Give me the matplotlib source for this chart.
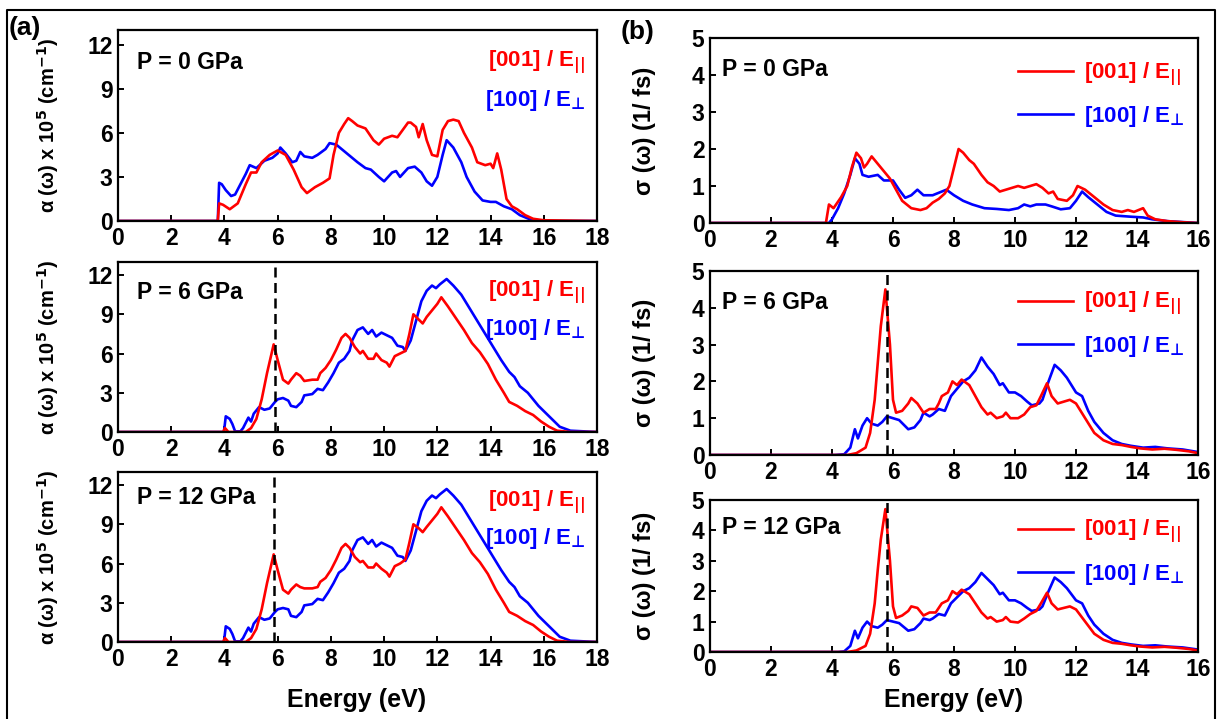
import matplotlib
matplotlib.use('Agg')
import matplotlib.pyplot as plt
from matplotlib import font_manager
from matplotlib.lines import Line2D

# ---------------- data ----------------
# (a) absorption alpha(omega) x 1e5 cm^-1
e_a0_r = [0, 3.75, 3.8, 3.95, 4.2, 4.5, 4.8, 5.0, 5.2, 5.4, 5.7, 6.0, 6.3, 6.6, 6.9, 7.1, 7.4, 7.7, 7.95, 8.1,
          8.3, 8.5, 8.65, 8.8, 9.0, 9.3, 9.6, 9.8, 10.0, 10.3, 10.5, 10.7, 10.9, 11.0, 11.2, 11.3, 11.45, 11.6,
          11.8, 12.0, 12.2, 12.4, 12.6, 12.8, 13.0, 13.3, 13.5, 13.8, 14.0, 14.1, 14.25, 14.4, 14.6, 14.8,
          15.0, 15.3, 15.6, 16.0, 18]
a0_r = [0, 0, 1.2, 1.1, 0.8, 1.2, 2.5, 3.3, 3.3, 4.0, 4.5, 4.8, 4.5, 3.5, 2.3, 1.9, 2.3, 2.6, 2.9, 4.5,
        6.0, 6.6, 7.0, 6.8, 6.5, 6.3, 5.5, 5.2, 5.6, 5.8, 5.7, 6.2, 6.7, 6.7, 6.4, 5.7, 6.6, 5.5,
        4.5, 4.4, 6.2, 6.8, 6.9, 6.8, 6.0, 5.0, 4.0, 3.8, 3.9, 3.6, 4.6, 3.5, 1.5, 1.0,
        0.8, 0.4, 0.15, 0.05, 0]
e_a0_b = [0, 3.75, 3.8, 3.9, 4.05, 4.25, 4.4, 4.6, 4.8, 4.95, 5.2, 5.5, 5.8, 6.0, 6.1, 6.3, 6.55, 6.7, 6.85,
          7.0, 7.3, 7.5, 7.8, 7.95, 8.2, 8.6, 9.0, 9.3, 9.5, 9.8, 10.0, 10.3, 10.45, 10.6, 10.9, 11.15, 11.4,
          11.6, 11.8, 12.0, 12.2, 12.35, 12.6, 12.9, 13.1, 13.4, 13.7, 14.0, 14.2, 14.5, 14.8, 15.1, 15.5,
          16.0, 18]
a0_b = [0, 0, 2.6, 2.5, 2.1, 1.7, 1.8, 2.5, 3.2, 3.8, 3.6, 4.1, 4.3, 4.6, 5.0, 4.6, 4.0, 4.1, 4.7,
        4.4, 4.3, 4.5, 4.9, 5.3, 5.2, 4.6, 4.0, 3.6, 3.5, 3.0, 2.7, 3.3, 3.4, 3.0, 3.6, 3.7, 3.3,
        2.7, 2.4, 3.0, 4.5, 5.5, 5.0, 4.0, 3.0, 2.0, 1.4, 1.3, 1.3, 1.0, 0.8, 0.4, 0.1,
        0, 0]

e_a6_r = [0, 3.95, 4.02, 4.15, 4.8, 5.0, 5.2, 5.4, 5.6, 5.85, 6.0, 6.2, 6.4, 6.5, 6.7, 6.85, 7.0, 7.3, 7.5,
          7.6, 7.8, 8.0, 8.2, 8.4, 8.55, 8.7, 8.9, 9.1, 9.2, 9.4, 9.6, 9.7, 9.9, 10.1, 10.2, 10.4, 10.6,
          10.8, 10.95, 11.1, 11.3, 11.45, 11.6, 11.8, 12.0, 12.15, 12.4, 12.7, 13.0, 13.3, 13.6, 13.9, 14.2,
          14.5, 14.7, 15.0, 15.3, 15.6, 15.9, 16.2, 16.5, 17.0, 18]
a6_r = [0, 0, 0.3, 0, 0, 0.3, 1.0, 2.5, 4.5, 6.7, 5.5, 4.0, 3.7, 4.0, 4.5, 4.3, 3.9, 4.0, 4.0,
        4.5, 4.9, 5.5, 6.3, 7.2, 7.5, 7.2, 6.5, 6.0, 6.2, 5.6, 5.6, 6.0, 5.5, 5.3, 5.0, 5.8, 6.0,
        6.2, 7.5, 9.0, 8.6, 8.3, 8.8, 9.3, 9.8, 10.3, 9.6, 8.7, 7.8, 6.8, 6.1, 5.2, 4.0,
        3.0, 2.3, 2.0, 1.6, 1.3, 0.8, 0.4, 0.1, 0, 0]
e_a6_b = [0, 3.98, 4.05, 4.2, 4.3, 4.4, 4.6, 4.7, 4.9, 5.0, 5.1, 5.3, 5.5, 5.7, 5.9, 6.0, 6.2, 6.4, 6.5,
          6.7, 6.9, 7.0, 7.3, 7.5, 7.7, 7.9, 8.1, 8.3, 8.5, 8.7, 8.8, 9.0, 9.2, 9.4, 9.55, 9.7, 9.9, 10.1,
          10.3, 10.5, 10.7, 10.8, 11.0, 11.2, 11.4, 11.6, 11.8, 11.95, 12.1, 12.35, 12.6, 12.9, 13.2, 13.5,
          13.8, 14.1, 14.4, 14.7, 14.9, 15.1, 15.4, 15.6, 15.8, 16.0, 16.3, 16.6, 17.0, 18]
a6_b = [0, 0, 1.2, 1.0, 0.6, 0.05, 0.05, 0.3, 1.1, 0.8, 1.4, 1.9, 1.7, 1.8, 2.3, 2.5, 2.6, 2.4, 2.0,
        1.9, 2.3, 2.8, 2.9, 3.3, 3.2, 3.8, 4.5, 5.3, 5.6, 6.2, 7.0, 7.8, 8.0, 7.5, 7.8, 7.3, 7.6, 7.4,
        7.2, 6.6, 6.5, 6.2, 7.0, 8.5, 10.0, 10.8, 11.2, 11.0, 11.3, 11.7, 11.2, 10.5, 9.5, 8.5,
        7.5, 6.5, 5.5, 4.6, 4.2, 3.5, 3.0, 2.5, 2.0, 1.6, 1.0, 0.4, 0.1, 0]

e_a12_r = [0, 3.95, 4.02, 4.15, 4.8, 5.0, 5.2, 5.4, 5.6, 5.85, 6.0, 6.2, 6.4, 6.5, 6.7, 6.85, 7.0, 7.3, 7.5,
           7.6, 7.8, 8.0, 8.2, 8.4, 8.55, 8.7, 8.9, 9.1, 9.2, 9.4, 9.6, 9.7, 9.9, 10.1, 10.2, 10.4, 10.6,
           10.8, 10.95, 11.1, 11.3, 11.45, 11.6, 11.8, 12.0, 12.15, 12.4, 12.7, 13.0, 13.3, 13.6, 13.9, 14.2,
           14.5, 14.7, 15.0, 15.3, 15.6, 15.9, 16.2, 16.5, 17.0, 18]
a12_r = [0, 0, 0.3, 0, 0, 0.3, 1.0, 2.5, 4.5, 6.7, 5.5, 4.0, 3.7, 4.0, 4.4, 4.2, 4.1, 4.1, 4.2,
         4.6, 4.9, 5.5, 6.3, 7.2, 7.5, 7.2, 6.5, 6.1, 6.2, 5.7, 5.7, 6.0, 5.6, 5.3, 5.0, 5.8, 6.0,
         6.3, 7.6, 9.0, 8.7, 8.4, 8.8, 9.3, 9.8, 10.3, 9.6, 8.7, 7.8, 6.8, 6.1, 5.2, 4.0,
         3.0, 2.3, 2.0, 1.6, 1.3, 0.8, 0.4, 0.1, 0, 0]
e_a12_b = [0, 3.98, 4.05, 4.2, 4.3, 4.4, 4.6, 4.7, 4.9, 5.0, 5.1, 5.3, 5.5, 5.7, 5.9, 6.0, 6.2, 6.4, 6.5,
           6.7, 6.9, 7.0, 7.3, 7.5, 7.7, 7.9, 8.1, 8.3, 8.5, 8.7, 8.8, 9.0, 9.2, 9.4, 9.55, 9.7, 9.9, 10.1,
           10.3, 10.5, 10.7, 10.8, 11.0, 11.2, 11.4, 11.6, 11.8, 11.95, 12.1, 12.35, 12.6, 12.9, 13.2, 13.5,
           13.8, 14.1, 14.4, 14.7, 14.9, 15.1, 15.4, 15.6, 15.8, 16.0, 16.3, 16.6, 17.0, 18]
a12_b = [0, 0, 1.2, 1.0, 0.6, 0.05, 0.05, 0.3, 1.1, 0.8, 1.4, 1.9, 1.7, 1.8, 2.3, 2.5, 2.6, 2.5, 2.0,
         1.9, 2.3, 2.8, 2.9, 3.3, 3.2, 3.8, 4.5, 5.3, 5.6, 6.2, 7.0, 7.8, 8.0, 7.5, 7.8, 7.3, 7.6, 7.4,
         7.2, 6.6, 6.5, 6.2, 7.0, 8.5, 10.0, 10.8, 11.2, 11.0, 11.3, 11.7, 11.2, 10.5, 9.5, 8.5,
         7.5, 6.5, 5.5, 4.6, 4.2, 3.5, 3.0, 2.5, 2.0, 1.6, 1.0, 0.4, 0.1, 0]

# (b) optical conductivity sigma(omega) (1/fs)
e_s0_r = [0, 3.8, 3.9, 4.05, 4.3, 4.5, 4.65, 4.8, 4.95, 5.05, 5.15, 5.3, 5.4, 5.5, 5.7, 5.9, 6.1, 6.3, 6.6,
          6.9, 7.1, 7.3, 7.5, 7.7, 7.85, 8.0, 8.15, 8.3, 8.5, 8.65, 8.9, 9.1, 9.3, 9.5, 9.7, 9.9, 10.1,
          10.3, 10.5, 10.7, 10.9, 11.1, 11.25, 11.4, 11.7, 11.9, 12.05, 12.3, 12.6, 12.9, 13.2, 13.5, 13.7,
          13.9, 14.2, 14.35, 14.6, 15.0, 15.5, 16.0]
s0_r = [0, 0, 0.5, 0.4, 0.7, 1.0, 1.5, 1.9, 1.75, 1.5, 1.6, 1.8, 1.7, 1.6, 1.4, 1.2, 0.9, 0.6, 0.4,
        0.35, 0.4, 0.55, 0.65, 0.8, 1.0, 1.5, 2.0, 1.9, 1.7, 1.6, 1.3, 1.1, 1.0, 0.85, 0.9, 0.95, 1.0,
        0.95, 1.0, 1.05, 0.95, 0.8, 0.85, 0.65, 0.6, 0.75, 1.0, 0.9, 0.7, 0.5, 0.35, 0.3, 0.35,
        0.3, 0.4, 0.2, 0.1, 0.05, 0.02, 0]
e_s0_b = [0, 3.9, 4.0, 4.2, 4.4, 4.6, 4.75, 4.9, 5.0, 5.2, 5.5, 5.7, 6.0, 6.2, 6.4, 6.6, 6.8, 7.0, 7.3,
          7.6, 7.75, 8.0, 8.3, 8.6, 9.0, 9.4, 9.8, 10.1, 10.3, 10.5, 10.7, 11.0, 11.2, 11.5, 11.8, 12.0,
          12.2, 12.4, 12.7, 13.0, 13.3, 13.8, 14.2, 14.5, 15.0, 16.0]
s0_b = [0, 0, 0.1, 0.4, 0.8, 1.3, 1.75, 1.6, 1.3, 1.25, 1.3, 1.15, 1.15, 0.9, 0.68, 0.75, 0.9, 0.75, 0.75,
        0.85, 0.9, 0.75, 0.6, 0.5, 0.4, 0.38, 0.35, 0.4, 0.5, 0.45, 0.5, 0.5, 0.45, 0.37, 0.4, 0.6,
        0.85, 0.7, 0.5, 0.3, 0.2, 0.17, 0.15, 0.1, 0.05, 0]

e_s6_r = [0, 4.5, 4.8, 5.1, 5.25, 5.4, 5.5, 5.6, 5.75, 5.9, 6.0, 6.1, 6.3, 6.5, 6.6, 6.8, 7.0, 7.2, 7.4,
          7.5, 7.6, 7.8, 7.95, 8.1, 8.25, 8.5, 8.7, 8.9, 9.1, 9.2, 9.4, 9.6, 9.7, 9.85, 10.1, 10.3, 10.5,
          10.7, 10.85, 11.05, 11.2, 11.4, 11.6, 11.8, 12.0, 12.3, 12.6, 12.9, 13.2, 13.5, 13.8, 14.1, 14.5,
          14.9, 15.3, 15.7, 16.0]
s6_r = [0, 0, 0.05, 0.2, 0.6, 1.5, 2.5, 3.5, 4.5, 3.0, 1.5, 1.15, 1.2, 1.4, 1.55, 1.4, 1.15, 1.25, 1.25,
        1.4, 1.6, 1.7, 2.0, 1.9, 2.05, 1.9, 1.6, 1.3, 1.1, 1.15, 1.0, 1.05, 1.15, 1.0, 1.0, 1.1, 1.3,
        1.35, 1.6, 1.95, 1.6, 1.4, 1.45, 1.5, 1.4, 1.0, 0.6, 0.4, 0.3, 0.27, 0.22, 0.18, 0.15,
        0.17, 0.14, 0.1, 0.05]
e_s6_b = [0, 4.1, 4.4, 4.6, 4.75, 4.85, 5.0, 5.15, 5.3, 5.5, 5.65, 5.8, 6.0, 6.2, 6.5, 6.7, 6.9, 7.0, 7.2,
          7.3, 7.5, 7.7, 7.9, 8.1, 8.3, 8.5, 8.7, 8.9, 9.1, 9.3, 9.5, 9.6, 9.8, 10.0, 10.2, 10.4, 10.55,
          10.8, 10.9, 11.1, 11.3, 11.5, 11.7, 11.85, 12.0, 12.2, 12.4, 12.6, 12.9, 13.2, 13.5, 13.8, 14.2,
          14.6, 15.0, 15.5, 16.0]
s6_b = [0, 0, 0.02, 0.2, 0.7, 0.45, 0.8, 1.0, 0.85, 0.8, 0.9, 1.05, 1.0, 0.95, 0.7, 0.75, 0.95, 1.15, 1.05,
        1.1, 1.25, 1.2, 1.6, 1.8, 2.0, 2.1, 2.3, 2.65, 2.4, 2.2, 1.9, 1.95, 1.7, 1.7, 1.6, 1.45, 1.35,
        1.4, 1.5, 2.0, 2.45, 2.3, 2.1, 1.9, 1.7, 1.6, 1.2, 0.9, 0.6, 0.4, 0.3, 0.25, 0.2,
        0.22, 0.18, 0.15, 0.08]

e_s12_r = [0, 4.5, 4.8, 5.1, 5.25, 5.4, 5.5, 5.6, 5.75, 5.9, 6.0, 6.1, 6.3, 6.5, 6.6, 6.8, 7.0, 7.2, 7.4,
           7.5, 7.6, 7.8, 7.95, 8.1, 8.25, 8.5, 8.7, 8.9, 9.1, 9.2, 9.4, 9.6, 9.7, 9.85, 10.1, 10.3, 10.5,
           10.7, 10.85, 11.05, 11.2, 11.4, 11.6, 11.8, 12.0, 12.3, 12.6, 12.9, 13.2, 13.5, 13.8, 14.1, 14.5,
           14.9, 15.3, 15.7, 16.0]
s12_r = [0, 0, 0.05, 0.2, 0.6, 1.6, 2.7, 3.7, 4.7, 3.0, 1.5, 1.12, 1.2, 1.35, 1.5, 1.45, 1.2, 1.3, 1.3,
         1.45, 1.6, 1.7, 2.0, 1.9, 2.05, 1.9, 1.6, 1.3, 1.1, 1.15, 1.0, 1.05, 1.15, 1.0, 0.97, 1.1, 1.25,
         1.35, 1.6, 1.95, 1.6, 1.4, 1.45, 1.5, 1.4, 1.0, 0.6, 0.4, 0.3, 0.27, 0.22, 0.18, 0.15,
         0.17, 0.14, 0.1, 0.05]
e_s12_b = [0, 4.2, 4.4, 4.6, 4.75, 4.85, 5.0, 5.15, 5.3, 5.5, 5.65, 5.8, 6.0, 6.2, 6.5, 6.7, 6.9, 7.0, 7.2,
           7.3, 7.5, 7.7, 7.9, 8.1, 8.3, 8.5, 8.7, 8.9, 9.1, 9.3, 9.5, 9.6, 9.8, 10.0, 10.2, 10.4, 10.55,
           10.8, 10.9, 11.1, 11.3, 11.5, 11.7, 11.85, 12.0, 12.2, 12.4, 12.6, 12.9, 13.2, 13.5, 13.8, 14.2,
           14.6, 15.0, 15.5, 16.0]
s12_b = [0, 0, 0.02, 0.2, 0.7, 0.45, 0.8, 1.0, 0.85, 0.8, 0.9, 1.05, 1.0, 0.95, 0.7, 0.75, 0.95, 1.1, 1.05,
         1.1, 1.25, 1.2, 1.6, 1.8, 2.0, 2.1, 2.3, 2.6, 2.4, 2.2, 1.9, 1.95, 1.7, 1.7, 1.6, 1.45, 1.35,
         1.4, 1.5, 2.0, 2.45, 2.3, 2.1, 1.9, 1.7, 1.6, 1.2, 0.9, 0.6, 0.4, 0.3, 0.25, 0.2,
         0.22, 0.18, 0.15, 0.08]

pressures = ["P = 0 GPa", "P = 6 GPa", "P = 12 GPa"]
label_par = r"[001] / E$_{\mathbf{||}}$"
label_perp = "[100] / E$_{\u22a5}$"
ylabel_a = r"α (ω) x 10$^{\mathbf{5}}$ (cm$^{\mathbf{-1}}$)"
ylabel_b = "σ (ω) (1/ fs)"
peak_lines_a = [None, 5.9, 5.85]
peak_lines_b = [None, 5.8, 5.8]
xticks_a = [0, 2, 4, 6, 8, 10, 12, 14, 16, 18]
yticks_a = [0, 3, 6, 9, 12]
xticks_b = [0, 2, 4, 6, 8, 10, 12, 14, 16]
yticks_b = [0, 1, 2, 3, 4, 5]

# ---------------- style ----------------
FAM = ['Liberation Sans', 'DejaVu Sans']
plt.rcParams['font.family'] = FAM
plt.rcParams['font.weight'] = 'bold'
plt.rcParams['mathtext.fontset'] = 'dejavusans'
plt.rcParams['axes.linewidth'] = 1.6

RED = '#ff0000'
BLUE = '#0000ff'
W, H = 1220, 719

fig = plt.figure(figsize=(W / 100, H / 100), dpi=100)


def ax_at(l, t, r, b):
    return fig.add_axes([l / W, 1 - b / H, (r - l) / W, (b - t) / H])


def style(ax, xlim, ylim, xt, yt):
    ax.set_xlim(*xlim)
    ax.set_ylim(*ylim)
    ax.set_xticks(xt)
    ax.set_yticks(yt)
    ax.tick_params(direction='in', length=4, width=1.4, labelsize=16.5, pad=4,
                   top=False, right=False)
    for lab in ax.get_xticklabels() + ax.get_yticklabels():
        lab.set_fontweight('bold')


# left column (a)
a_boxes = [(118, 30, 597, 221), (118, 262, 597, 432), (118, 472, 597, 642)]
a_data = [(e_a0_r, a0_r, e_a0_b, a0_b), (e_a6_r, a6_r, e_a6_b, a6_b), (e_a12_r, a12_r, e_a12_b, a12_b)]
p_y_a = [0.83, 0.82, 0.85]
leg_y_a = [(0.83, 0.63), (0.82, 0.60), (0.82, 0.61)]
for i in range(3):
    ax = ax_at(*a_boxes[i])
    er, vr, eb, vb = a_data[i]
    ax.plot(eb, vb, color=BLUE, lw=1.9)
    ax.plot(er, vr, color=RED, lw=1.9)
    if peak_lines_a[i] is not None:
        ax.axvline(peak_lines_a[i], ymax=0.97, color='black', lw=1.8, ls=(0, (4, 2.2)))
    style(ax, (0, 18), (0, 13), xticks_a, yticks_a)
    ax.text(0.04, p_y_a[i], pressures[i], transform=ax.transAxes, fontsize=16.5,
            fontweight='bold', va='center', ha='left')
    ax.text(0.975, leg_y_a[i][0], label_par, transform=ax.transAxes, fontsize=16,
            fontweight='bold', color=RED, va='center', ha='right')
    ax.text(0.975, leg_y_a[i][1], label_perp, transform=ax.transAxes, fontsize=16,
            fontweight='bold', color=BLUE, va='center', ha='right')
    ax.set_ylabel(ylabel_a, fontsize=14.5, fontweight='bold')
    ax.yaxis.set_label_coords(-0.118, 0.5)

# right column (b)
b_boxes = [(710, 38, 1198, 223), (710, 271, 1198, 455), (710, 500, 1198, 652)]
b_data = [(e_s0_r, s0_r, e_s0_b, s0_b), (e_s6_r, s6_r, e_s6_b, s6_b), (e_s12_r, s12_r, e_s12_b, s12_b)]
p_y_b = [0.83, 0.83, 0.82]
leg_anchor_b = [0.95, 0.97, 0.97]
for i in range(3):
    ax = ax_at(*b_boxes[i])
    er, vr, eb, vb = b_data[i]
    lb, = ax.plot(eb, vb, color=BLUE, lw=1.9)
    lr, = ax.plot(er, vr, color=RED, lw=1.9)
    if peak_lines_b[i] is not None:
        ax.axvline(peak_lines_b[i], color='black', lw=1.8, ls=(0, (4, 2.2)))
    style(ax, (0, 16), (0, 5), xticks_b, yticks_b)
    ax.text(0.025, p_y_b[i], pressures[i], transform=ax.transAxes, fontsize=16.5,
            fontweight='bold', va='center', ha='left')
    ax.legend([lr, lb], [label_par, label_perp], loc='upper right',
              bbox_to_anchor=(1.0, leg_anchor_b[i]), frameon=False,
              handlelength=2.5, handletextpad=0.5, labelspacing=0.7,
              prop=dict(size=16, weight='bold'), labelcolor='linecolor', borderaxespad=0.2)
    ax.set_ylabel(ylabel_b, fontsize=17, fontweight='bold')
    ax.yaxis.set_label_coords(-0.11, 0.5)

# panel tags and x labels
fig.text(25 / W, 1 - 28 / H, '(a)', fontsize=19, fontweight='bold', ha='center', va='center')
fig.text(638 / W, 1 - 32 / H, '(b)', fontsize=19, fontweight='bold', ha='center', va='center')
fig.text(357 / W, 1 - 700 / H, 'Energy (eV)', fontsize=18, fontweight='bold', ha='center', va='center')
fig.text(954 / W, 1 - 700 / H, 'Energy (eV)', fontsize=18, fontweight='bold', ha='center', va='center')

# outer frame
fig.add_artist(Line2D([7 / W, 7 / W, 1215 / W, 1215 / W], [0, 1 - 10 / H, 1 - 10 / H, 0],
                      transform=fig.transFigure, color='black', lw=1.5))

fig.savefig('out.png', dpi=100)
